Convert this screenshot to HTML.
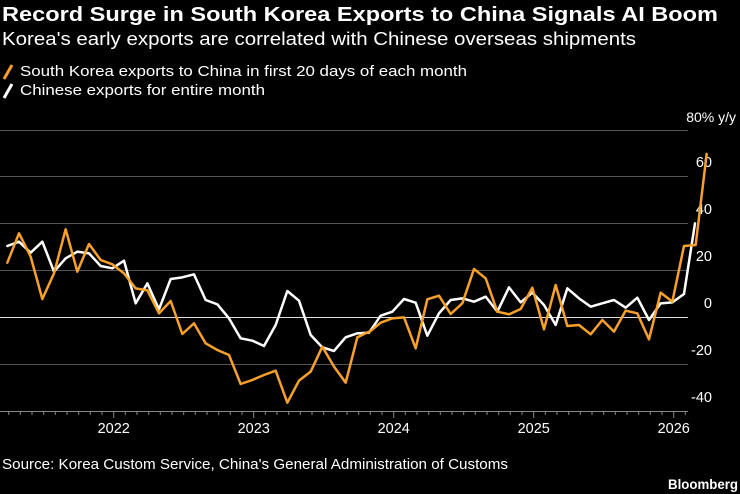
<!DOCTYPE html>
<html><head><meta charset="utf-8"><style>
body{margin:0;background:#000;width:740px;height:494px;overflow:hidden;font-family:"Liberation Sans",sans-serif;color:#fff}
</style></head><body>
<svg width="740" height="494" xmlns="http://www.w3.org/2000/svg" style="position:absolute;left:0;top:0">
<rect width="740" height="494" fill="#000"/>
<text x="2" y="21" font-size="20" font-weight="bold" fill="#fff" textLength="716" lengthAdjust="spacingAndGlyphs">Record Surge in South Korea Exports to China Signals AI Boom</text>
<text x="2" y="45" font-size="18" fill="#fff" textLength="634" lengthAdjust="spacingAndGlyphs">Korea's early exports are correlated with Chinese overseas shipments</text>
<line x1="4" y1="79" x2="12" y2="65" stroke="#f7a12b" stroke-width="3"/>
<text x="20" y="76" font-size="14.5" fill="#fff" textLength="447" lengthAdjust="spacingAndGlyphs">South Korea exports to China in first 20 days of each month</text>
<line x1="4" y1="98" x2="12" y2="84" stroke="#fff" stroke-width="3"/>
<text x="20" y="95" font-size="14.5" fill="#fff" textLength="245" lengthAdjust="spacingAndGlyphs">Chinese exports for entire month</text>
<text x="736" y="122" font-size="14" fill="#fff" text-anchor="end">80% y/y</text>
<g stroke="#555" stroke-width="1">
<line x1="0" y1="130.5" x2="688" y2="130.5"/>
<line x1="0" y1="176.5" x2="688" y2="176.5"/>
<line x1="0" y1="223.5" x2="688" y2="223.5"/>
<line x1="0" y1="270.5" x2="688" y2="270.5"/>
<line x1="0" y1="364.5" x2="688" y2="364.5"/>
<line x1="0" y1="411.5" x2="688" y2="411.5" stroke="#888"/>
</g>
<line x1="0" y1="317.5" x2="688" y2="317.5" stroke="#ddd" stroke-width="1"/>
<g fill="#fff" font-size="14.5" text-anchor="end">
<text x="712" y="167">60</text>
<text x="712" y="214">40</text>
<text x="712" y="261">20</text>
<text x="712" y="308">0</text>
<text x="712" y="355">-20</text>
<text x="712" y="402">-40</text>
</g>
<g stroke="#888" stroke-width="1">
<line x1="8.7" y1="411" x2="8.7" y2="415"/><line x1="20.3" y1="411" x2="20.3" y2="415"/><line x1="32" y1="411" x2="32" y2="415"/><line x1="43.7" y1="411" x2="43.7" y2="415"/><line x1="55.3" y1="411" x2="55.3" y2="415"/><line x1="67" y1="411" x2="67" y2="415"/><line x1="78.7" y1="411" x2="78.7" y2="415"/><line x1="90.3" y1="411" x2="90.3" y2="415"/><line x1="102" y1="411" x2="102" y2="415"/>
<line x1="113.7" y1="411" x2="113.7" y2="418"/>
<line x1="125.3" y1="411" x2="125.3" y2="415"/><line x1="137" y1="411" x2="137" y2="415"/><line x1="148.7" y1="411" x2="148.7" y2="415"/><line x1="160.3" y1="411" x2="160.3" y2="415"/><line x1="172" y1="411" x2="172" y2="415"/><line x1="183.7" y1="411" x2="183.7" y2="415"/><line x1="195.3" y1="411" x2="195.3" y2="415"/><line x1="207" y1="411" x2="207" y2="415"/><line x1="218.7" y1="411" x2="218.7" y2="415"/><line x1="230.3" y1="411" x2="230.3" y2="415"/><line x1="242" y1="411" x2="242" y2="415"/>
<line x1="253.7" y1="411" x2="253.7" y2="418"/>
<line x1="265.3" y1="411" x2="265.3" y2="415"/><line x1="277" y1="411" x2="277" y2="415"/><line x1="288.7" y1="411" x2="288.7" y2="415"/><line x1="300.3" y1="411" x2="300.3" y2="415"/><line x1="312" y1="411" x2="312" y2="415"/><line x1="323.7" y1="411" x2="323.7" y2="415"/><line x1="335.3" y1="411" x2="335.3" y2="415"/><line x1="347" y1="411" x2="347" y2="415"/><line x1="358.7" y1="411" x2="358.7" y2="415"/><line x1="370.3" y1="411" x2="370.3" y2="415"/><line x1="382" y1="411" x2="382" y2="415"/>
<line x1="393.7" y1="411" x2="393.7" y2="418"/>
<line x1="405.3" y1="411" x2="405.3" y2="415"/><line x1="417" y1="411" x2="417" y2="415"/><line x1="428.7" y1="411" x2="428.7" y2="415"/><line x1="440.3" y1="411" x2="440.3" y2="415"/><line x1="452" y1="411" x2="452" y2="415"/><line x1="463.7" y1="411" x2="463.7" y2="415"/><line x1="475.3" y1="411" x2="475.3" y2="415"/><line x1="487" y1="411" x2="487" y2="415"/><line x1="498.7" y1="411" x2="498.7" y2="415"/><line x1="510.3" y1="411" x2="510.3" y2="415"/><line x1="522" y1="411" x2="522" y2="415"/>
<line x1="533.7" y1="411" x2="533.7" y2="418"/>
<line x1="545.3" y1="411" x2="545.3" y2="415"/><line x1="557" y1="411" x2="557" y2="415"/><line x1="568.7" y1="411" x2="568.7" y2="415"/><line x1="580.3" y1="411" x2="580.3" y2="415"/><line x1="592" y1="411" x2="592" y2="415"/><line x1="603.7" y1="411" x2="603.7" y2="415"/><line x1="615.3" y1="411" x2="615.3" y2="415"/><line x1="627" y1="411" x2="627" y2="415"/><line x1="638.7" y1="411" x2="638.7" y2="415"/><line x1="650.3" y1="411" x2="650.3" y2="415"/><line x1="662" y1="411" x2="662" y2="415"/>
<line x1="673.7" y1="411" x2="673.7" y2="418"/>
<line x1="685.3" y1="411" x2="685.3" y2="415"/>
</g>
<g fill="#fff" font-size="14.5" text-anchor="middle">
<text x="113.7" y="433">2022</text>
<text x="253.7" y="433">2023</text>
<text x="393.7" y="433">2024</text>
<text x="533.7" y="433">2025</text>
<text x="673.7" y="433">2026</text>
</g>
<g fill="none" stroke-width="7.5" stroke-linejoin="round" stroke-linecap="round">
<g transform="translate(0,220) scale(0.33333)">
<polyline stroke="#fff" points="22,78 57,65 92,98 127,65 162,155 197,115 232,95 267,100 302,138 337,145 372,122 407,250 442,190 477,268 512,177 547,172 582,163 617,240 652,253 687,295 722,355 757,362 792,378 827,315 862,213 897,242 932,345 967,382 1002,393 1037,352 1072,340 1107,338"/>
</g>
<g transform="translate(360,140) scale(0.33333)">
<polyline stroke="#fff" points="27,578 62,527 97,515 132,477 167,488 202,587 237,520 272,480 307,475 342,485 377,470 412,515 447,442 482,487 517,458 552,495 587,555 622,445 657,475 692,500 727,490 762,480 797,503 832,473 867,540 902,490 937,487 972,462 1005,250"/>
</g>
<g transform="translate(0,220) scale(0.33333)">
<polyline stroke="#f7a12b" points="22,128 57,40 92,110 127,237 162,160 197,28 232,155 267,72 302,120 337,133 372,160 407,205 442,211 477,280 512,243 547,342 582,310 617,370 652,390 687,405 722,492 757,480 792,465 827,452 862,548 897,482 932,455 967,380 1002,440 1037,488 1072,352 1107,335"/>
</g>
<g transform="translate(360,140) scale(0.33333)">
<polyline stroke="#f7a12b" points="27,577 62,548 97,535 132,532 167,625 202,478 237,467 272,522 307,490 342,387 377,415 412,515 447,523 482,507 517,443 552,568 587,435 622,558 657,555 692,583 727,540 762,575 797,512 832,520 867,598 902,458 937,485 972,318 1007,315 1040,42"/>
</g>
</g>
<text x="2" y="469" font-size="14.5" fill="#fff" textLength="506" lengthAdjust="spacingAndGlyphs">Source: Korea Custom Service, China's General Administration of Customs</text>
<text x="738" y="489" font-size="14" font-weight="bold" fill="#fff" text-anchor="end" textLength="70" lengthAdjust="spacingAndGlyphs">Bloomberg</text>
</svg>
</body></html>
